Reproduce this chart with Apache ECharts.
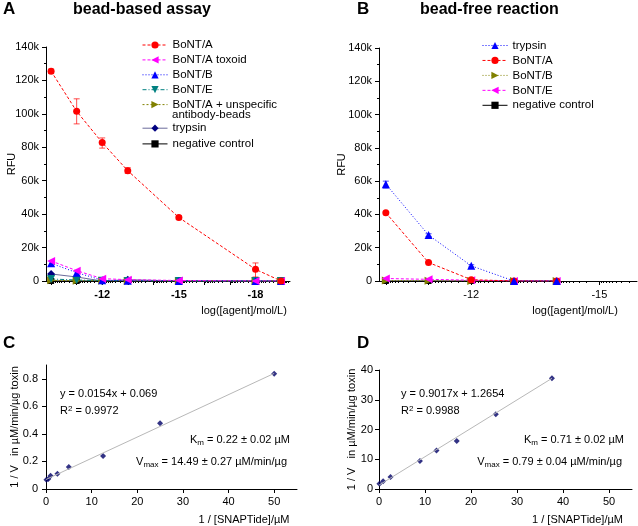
<!DOCTYPE html>
<html><head><meta charset="utf-8">
<script src="https://cdn.jsdelivr.net/npm/echarts@6/dist/echarts.min.js"></script>
<style>html,body{margin:0;padding:0;background:#fff}#c{width:638px;height:526px}</style>
</head><body><div id="c"></div><script>
const FONT = 'Liberation Sans, Arial, sans-serif';
// ---- Panel A: bead-based assay ----
const aX = [-10, -11, -12, -13, -15, -18, -19];
const aBoNTA = [125500, 101500, 82800, 66000, 38000, 7000, 0];
const aBoNTALow = [124200, 94000, 79500, 64400, 37000, 2400, 0];
const aBoNTAHigh = [126800, 109000, 85600, 67800, 39000, 10800, 0];
const aToxoid = [12000, 6200, 1400, 800, 300, 0, 0];
const aBoNTB = [10600, 5000, 500, 200, 0, 0, 0];
const aBoNTE = [1200, 600, 200, 0, 0, 0, 0];
const aUnspec = [400, 200, 100, 0, 0, 0, 0];
const aTrypsin = [4200, 2400, 0, 800, 0, 0, 0];
const aNeg = [0, 0, 0, 0, 0, 0, 0];
const aTickLabels = [-12, -15, -18];
const aMajorTicks = [-10, -11, -12, -13, -14, -15, -16, -17, -18, -19];
// ---- Panel B: bead-free reaction ----
const bX = [-10, -11, -12, -13, -14];
const bTrypsin = [58200, 27600, 9100, 0, 0];
const bTrypsinLow = [55800, 26800, 8400, 0, 0];
const bTrypsinHigh = [60000, 28400, 9800, 0, 0];
const bBoNTA = [41000, 11100, 800, 0, 0];
const bBoNTB = [300, 200, 0, 0, 0];
const bBoNTE = [1500, 1000, 500, 0, 0];
const bNeg = [0, 0, 0, 0, 0];
const bTickLabels = [-12, -15];
const bMajorTicks = [-10, -11, -12, -13, -14, -15];
// ---- Panel C ----
const cX = [0.1, 0.5, 1, 2.5, 5, 12.5, 25, 50];
const cY = [0.067, 0.072, 0.096, 0.11, 0.16, 0.24, 0.477, 0.837];
const cTrendX = [0, 50];
const cTrendY = [0.069, 0.839];
const cYLabels = [0, 0.2, 0.4, 0.6, 0.8];
const cXLabels = [0, 10, 20, 30, 40, 50];
// ---- Panel D ----
const dX = [0.1, 0.9, 2.5, 8.9, 12.5, 16.9, 25.4, 37.6];
const dY = [1.8, 2.6, 4.0, 9.4, 12.9, 16.1, 25.1, 37.2];
const dTrendX = [0, 37.6];
const dTrendY = [1.3, 37.2];
const dXLabels = [0, 10, 20, 30, 40, 50];

const zip = (xs, ys) => xs.map((x, i) => [x, ys[i]]);
function minorTicks(lo, hi) {
  const out = [];
  for (let m = Math.floor(lo) - 1; m <= Math.ceil(hi); m++) {
    for (let k = 2; k <= 9; k++) {
      const v = m + Math.log10(k);
      if (v > lo && v < hi) out.push(v);
    }
  }
  return out;
}
const black = '#000';
const lblStyle = {color: black, fontFamily: FONT, fontSize: 11};

function logXAxis(grid, min, max, labels, majors, bold, nameShift) {
  return [{
    gridIndex: grid, type: 'value', inverse: true, min: min, max: max, position: 'bottom',
    axisLine: {show: true, onZero: false, lineStyle: {color: black, width: 1}},
    axisTick: {show: true, customValues: majors, length: 4, lineStyle: {color: black}},
    axisLabel: Object.assign({customValues: labels, margin: 8, fontWeight: bold ? 'bold' : 'normal',
      formatter: v => String(v)}, lblStyle),
    splitLine: {show: false},
    name: 'log([agent]/mol/L)', nameLocation: 'middle', nameGap: 24, nameMoveOverlap: false,
    nameTextStyle: Object.assign({}, lblStyle, {padding: [0, 0, 0, nameShift]})
  }, {
    gridIndex: grid, type: 'value', inverse: true, min: min, max: max, position: 'bottom',
    axisLine: {show: false, onZero: false},
    axisTick: {show: true, customValues: minorTicks(min, max), length: 2, lineStyle: {color: black}},
    axisLabel: {show: false}, splitLine: {show: false}
  }];
}
function rfuYAxis(grid, gap) {
  return {
    gridIndex: grid, type: 'value', min: 0, max: 140000, interval: 20000,
    axisLine: {show: true, onZero: false, lineStyle: {color: black}},
    axisTick: {show: true, length: 4, lineStyle: {color: black}},
    minorTick: {show: true, splitNumber: 2, length: 2, lineStyle: {color: black}},
    axisLabel: Object.assign({margin: 7, formatter: v => v === 0 ? '0' : (v / 1000) + 'k'}, lblStyle),
    splitLine: {show: false},
    name: 'RFU', nameLocation: 'middle', nameGap: gap, nameMoveOverlap: false,
    nameTextStyle: Object.assign({}, lblStyle, {fontSize: 11})
  };
}
function lineSeries(name, xi, yi, xs, ys, color, symbol, rot, size, dash, lineColor) {
  return {
    name: name, type: 'line', xAxisIndex: xi, yAxisIndex: yi, data: zip(xs, ys),
    symbol: symbol, symbolRotate: rot, symbolSize: size,
    itemStyle: {color: color},
    lineStyle: {color: lineColor || color, width: 1, type: dash},
    emphasis: {disabled: true}, animation: false
  };
}
function errSeries(xi, yi, xs, lo, hi, color) {
  return {
    name: 'err', type: 'custom', xAxisIndex: xi, yAxisIndex: yi,
    data: xs.map((x, i) => [x, lo[i], hi[i]]), animation: false, z: 1,
    renderItem: (params, api) => {
      const p1 = api.coord([api.value(0), api.value(1)]);
      const p2 = api.coord([api.value(0), api.value(2)]);
      const w = 3, st = {stroke: color, lineWidth: 1, opacity: 0.7};
      return {type: 'group', children: [
        {type: 'line', shape: {x1: p1[0], y1: p1[1], x2: p2[0], y2: p2[1]}, style: st},
        {type: 'line', shape: {x1: p1[0] - w, y1: p1[1], x2: p1[0] + w, y2: p1[1]}, style: st},
        {type: 'line', shape: {x1: p2[0] - w, y1: p2[1], x2: p2[0] + w, y2: p2[1]}, style: st}
      ]};
    }
  };
}
function kinX(grid, labels, shift) {
  return {
    gridIndex: grid, type: 'value', min: 0, max: 55,
    axisLine: {show: true, onZero: false, lineStyle: {color: black}},
    axisTick: {show: true, customValues: labels, length: 4, lineStyle: {color: black}},
    axisLabel: Object.assign({customValues: labels, margin: 7}, lblStyle),
    splitLine: {show: false},
    name: '1 / [SNAPTide]/\u00b5M', nameLocation: 'middle', nameGap: 25, nameMoveOverlap: false,
    nameTextStyle: Object.assign({}, lblStyle, {padding: [0, 0, 0, shift]})
  };
}
function kinY(grid, extra, gap) {
  return Object.assign({
    gridIndex: grid, type: 'value', min: 0,
    axisLine: {show: true, onZero: false, lineStyle: {color: black}},
    axisTick: {show: true, length: 4, lineStyle: {color: black}},
    splitLine: {show: false},
    name: '1 / V   in \u00b5M/min/\u00b5g toxin', nameLocation: 'middle', nameGap: gap, nameMoveOverlap: false,
    nameTextStyle: lblStyle
  }, extra);
}
const richBase = {
  a: {fontSize: 11, fontFamily: FONT, color: black, lineHeight: 13},
  s: {fontSize: 8, fontFamily: FONT, color: black, lineHeight: 6, verticalAlign: 'bottom'},
  p: {fontSize: 8, fontFamily: FONT, color: black, lineHeight: 6, verticalAlign: 'top'}
};
function txt(text, pos) {
  return Object.assign({text: text, padding: 0, itemGap: 0,
    textStyle: {fontSize: 11, fontFamily: FONT, color: black, fontWeight: 'normal', lineHeight: 13, rich: richBase}}, pos);
}
function head(text, left, top, size) {
  return {text: text, left: left, top: top, padding: 0,
    textStyle: {fontSize: size, fontFamily: FONT, fontWeight: 'bold', color: black, lineHeight: 18}};
}

const legendText = {color: black, fontFamily: FONT, fontSize: 11.5};
const legendBase = {orient: 'vertical', itemWidth: 25, itemHeight: 9, padding: 0,
  selectedMode: false, textStyle: legendText, lineStyle: {width: 1}};
const option = {
  backgroundColor: '#fff',
  animation: false,
  title: [
    head('A', 3, 0, 17), head('bead-based assay', 73, 1, 16),
    head('B', 357, 0, 17), head('bead-free reaction', 420, 1, 16),
    head('C', 3, 334, 17), head('D', 357, 334, 17),
    {text: 'antibody-beads', left: 172, top: 108, padding: 0,
      textStyle: {fontSize: 11.5, fontFamily: FONT, color: black, fontWeight: 'normal', lineHeight: 13}},
    txt('{a|y = 0.0154x + 0.069}', {left: 60, top: 387.5}),
    txt('{a|R}{p|2}{a| = 0.9972}', {left: 60, top: 404.5}),
    txt('{a|K}{s|m}{a| = 0.22 \u00b1 0.02 \u00b5M}', {right: 348, top: 433.5}),
    txt('{a|V}{s|max}{a| = 14.49 \u00b1 0.27 \u00b5M/min/\u00b5g}', {right: 351, top: 455.5}),
    txt('{a|y = 0.9017x + 1.2654}', {left: 401, top: 387.5}),
    txt('{a|R}{p|2}{a| = 0.9988}', {left: 401, top: 404.5}),
    txt('{a|K}{s|m}{a| = 0.71 \u00b1 0.02 \u00b5M}', {right: 14, top: 433.5}),
    txt('{a|V}{s|max}{a| = 0.79 \u00b1 0.04 \u00b5M/min/\u00b5g}', {right: 16, top: 455.5})
  ],
  legend: [
    Object.assign({left: 142, top: 39, itemGap: 2.9,
      data: ['BoNT/A', 'BoNT/A toxoid', 'BoNT/B', 'BoNT/E', 'BoNT/A + unspecific']}, legendBase),
    Object.assign({left: 142, top: 122.2, itemGap: 3.7, data: ['trypsin', 'negative control']}, legendBase),
    Object.assign({left: 482, top: 39.5, itemGap: 2.95,
      data: ['trypsin ', 'BoNT/A ', 'BoNT/B ', 'BoNT/E ', 'negative control ']}, legendBase)
  ],
  grid: [
    {left: 46, right: 348, top: 47, bottom: 245},
    {left: 379, right: 1, top: 48, bottom: 245},
    {left: 46, right: 341, top: 365, bottom: 37},
    {left: 379, right: 6, top: 370, bottom: 37}
  ],
  xAxis: [
    ...logXAxis(0, -19.35, -9.8, aTickLabels, aMajorTicks, true, 152),
    ...logXAxis(1, -15.88, -9.84, bTickLabels, bMajorTicks, false, 134),
    kinX(2, cXLabels, 145),
    kinX(3, dXLabels, 144)
  ],
  yAxis: [
    rfuYAxis(0, 29),
    rfuYAxis(1, 32),
    kinY(2, {max: 0.9,
      axisTick: {show: true, length: 4, customValues: cYLabels, lineStyle: {color: black}},
      axisLabel: Object.assign({customValues: cYLabels, margin: 8}, lblStyle)}, 26),
    kinY(3, {max: 40, interval: 10, axisLabel: Object.assign({margin: 6}, lblStyle)}, 22)
  ],
  series: [
    errSeries(0, 0, aX, aBoNTALow, aBoNTAHigh, '#ff0000'),
    lineSeries('negative control', 0, 0, aX, aNeg, '#000000', 'rect', 0, 6, 'solid'),
    lineSeries('trypsin', 0, 0, aX, aTrypsin, '#000080', 'diamond', 0, 8, 'solid', '#6a6a9a'),
    lineSeries('BoNT/A + unspecific', 0, 0, aX, aUnspec, '#808000', 'triangle', -90, 8, [2, 2]),
    lineSeries('BoNT/E', 0, 0, aX, aBoNTE, '#008080', 'triangle', 180, 8, [4, 2, 1, 2]),
    lineSeries('BoNT/B', 0, 0, aX, aBoNTB, '#0000ff', 'triangle', 0, 8, [1, 2]),
    lineSeries('BoNT/A toxoid', 0, 0, aX, aToxoid, '#ff00ff', 'triangle', 90, 8, [3, 2]),
    lineSeries('BoNT/A', 0, 0, aX, aBoNTA, '#ff0000', 'circle', 0, 7, [3, 2]),

    errSeries(2, 1, bX, bTrypsinLow, bTrypsinHigh, '#0000ff'),
    lineSeries('negative control ', 2, 1, bX, bNeg, '#000000', 'rect', 0, 6, 'solid'),
    lineSeries('BoNT/B ', 2, 1, bX, bBoNTB, '#808000', 'triangle', -90, 8, [1, 2]),
    lineSeries('BoNT/E ', 2, 1, bX, bBoNTE, '#ff00ff', 'triangle', 90, 8, [3, 2]),
    lineSeries('BoNT/A ', 2, 1, bX, bBoNTA, '#ff0000', 'circle', 0, 7, [3, 2]),
    lineSeries('trypsin ', 2, 1, bX, bTrypsin, '#0000ff', 'triangle', 0, 8, [1, 2]),

    {type: 'line', xAxisIndex: 4, yAxisIndex: 2, data: zip(cTrendX, cTrendY), symbol: 'none',
      lineStyle: {color: '#b8b8b8', width: 1}, silent: true},
    {type: 'scatter', xAxisIndex: 4, yAxisIndex: 2, data: zip(cX, cY), symbol: 'diamond',
      symbolSize: 6, itemStyle: {color: '#000066'}},
    {type: 'line', xAxisIndex: 5, yAxisIndex: 3, data: zip(dTrendX, dTrendY), symbol: 'none',
      lineStyle: {color: '#b8b8b8', width: 1}, silent: true},
    {type: 'scatter', xAxisIndex: 5, yAxisIndex: 3, data: zip(dX, dY), symbol: 'diamond',
      symbolSize: 6, itemStyle: {color: '#000066'}}
  ]
};
const chart = echarts.init(document.getElementById('c'), null, {renderer: 'canvas'});
chart.setOption(option);
</script></body></html>
